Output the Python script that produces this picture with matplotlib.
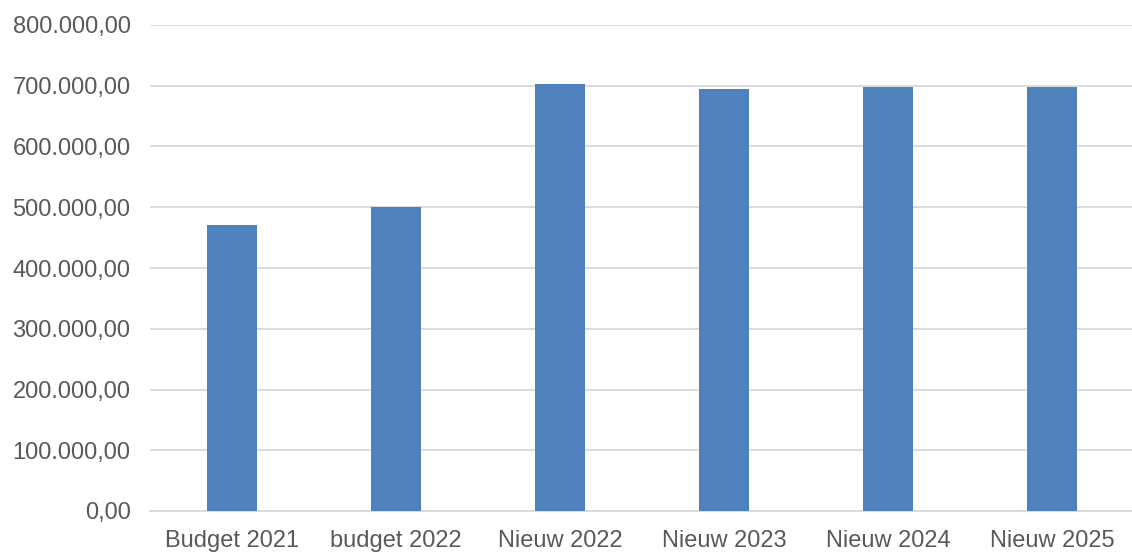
import matplotlib.pyplot as plt
from matplotlib.ticker import FuncFormatter

plt.rcParams['font.family'] = ['Liberation Sans', 'DejaVu Sans']

# Data
categories = ['Budget 2021', 'budget 2022', 'Nieuw 2022', 'Nieuw 2023', 'Nieuw 2024', 'Nieuw 2025']
values = [471500, 501000, 703000, 694600, 698400, 698400]

BAR_COLOR = '#4f81bd'
GRID_COLOR = '#d9d9d9'
TEXT_COLOR = '#595959'


def nl_format(v, pos):
    # Dutch number format: dot for thousands, comma for decimals
    s = f"{v:,.2f}"
    return s.replace(',', 'X').replace('.', ',').replace('X', '.')


fig = plt.figure(figsize=(11.32, 5.54), dpi=100)
ax = fig.add_axes([150 / 1132, 1 - 511 / 554, 984 / 1132, 486 / 554])

x = range(len(categories))
ax.bar(x, values, width=0.31, color=BAR_COLOR, zorder=3)

ax.set_xlim(-0.5, len(categories) - 0.5)
ax.set_ylim(0, 800000)
ax.set_yticks(range(0, 800001, 100000))
ax.yaxis.set_major_formatter(FuncFormatter(nl_format))
ax.set_xticks(list(x))
ax.set_xticklabels(categories)

ax.grid(axis='y', color=GRID_COLOR, linewidth=1.3, zorder=0)
for side in ['top', 'right', 'left']:
    ax.spines[side].set_visible(False)
ax.spines['bottom'].set_color(GRID_COLOR)
ax.spines['bottom'].set_linewidth(1.3)

ax.tick_params(axis='both', length=0, labelsize=17, labelcolor=TEXT_COLOR)
ax.tick_params(axis='y', pad=14)
ax.tick_params(axis='x', pad=14)

fig.savefig('out.png', dpi=100)
